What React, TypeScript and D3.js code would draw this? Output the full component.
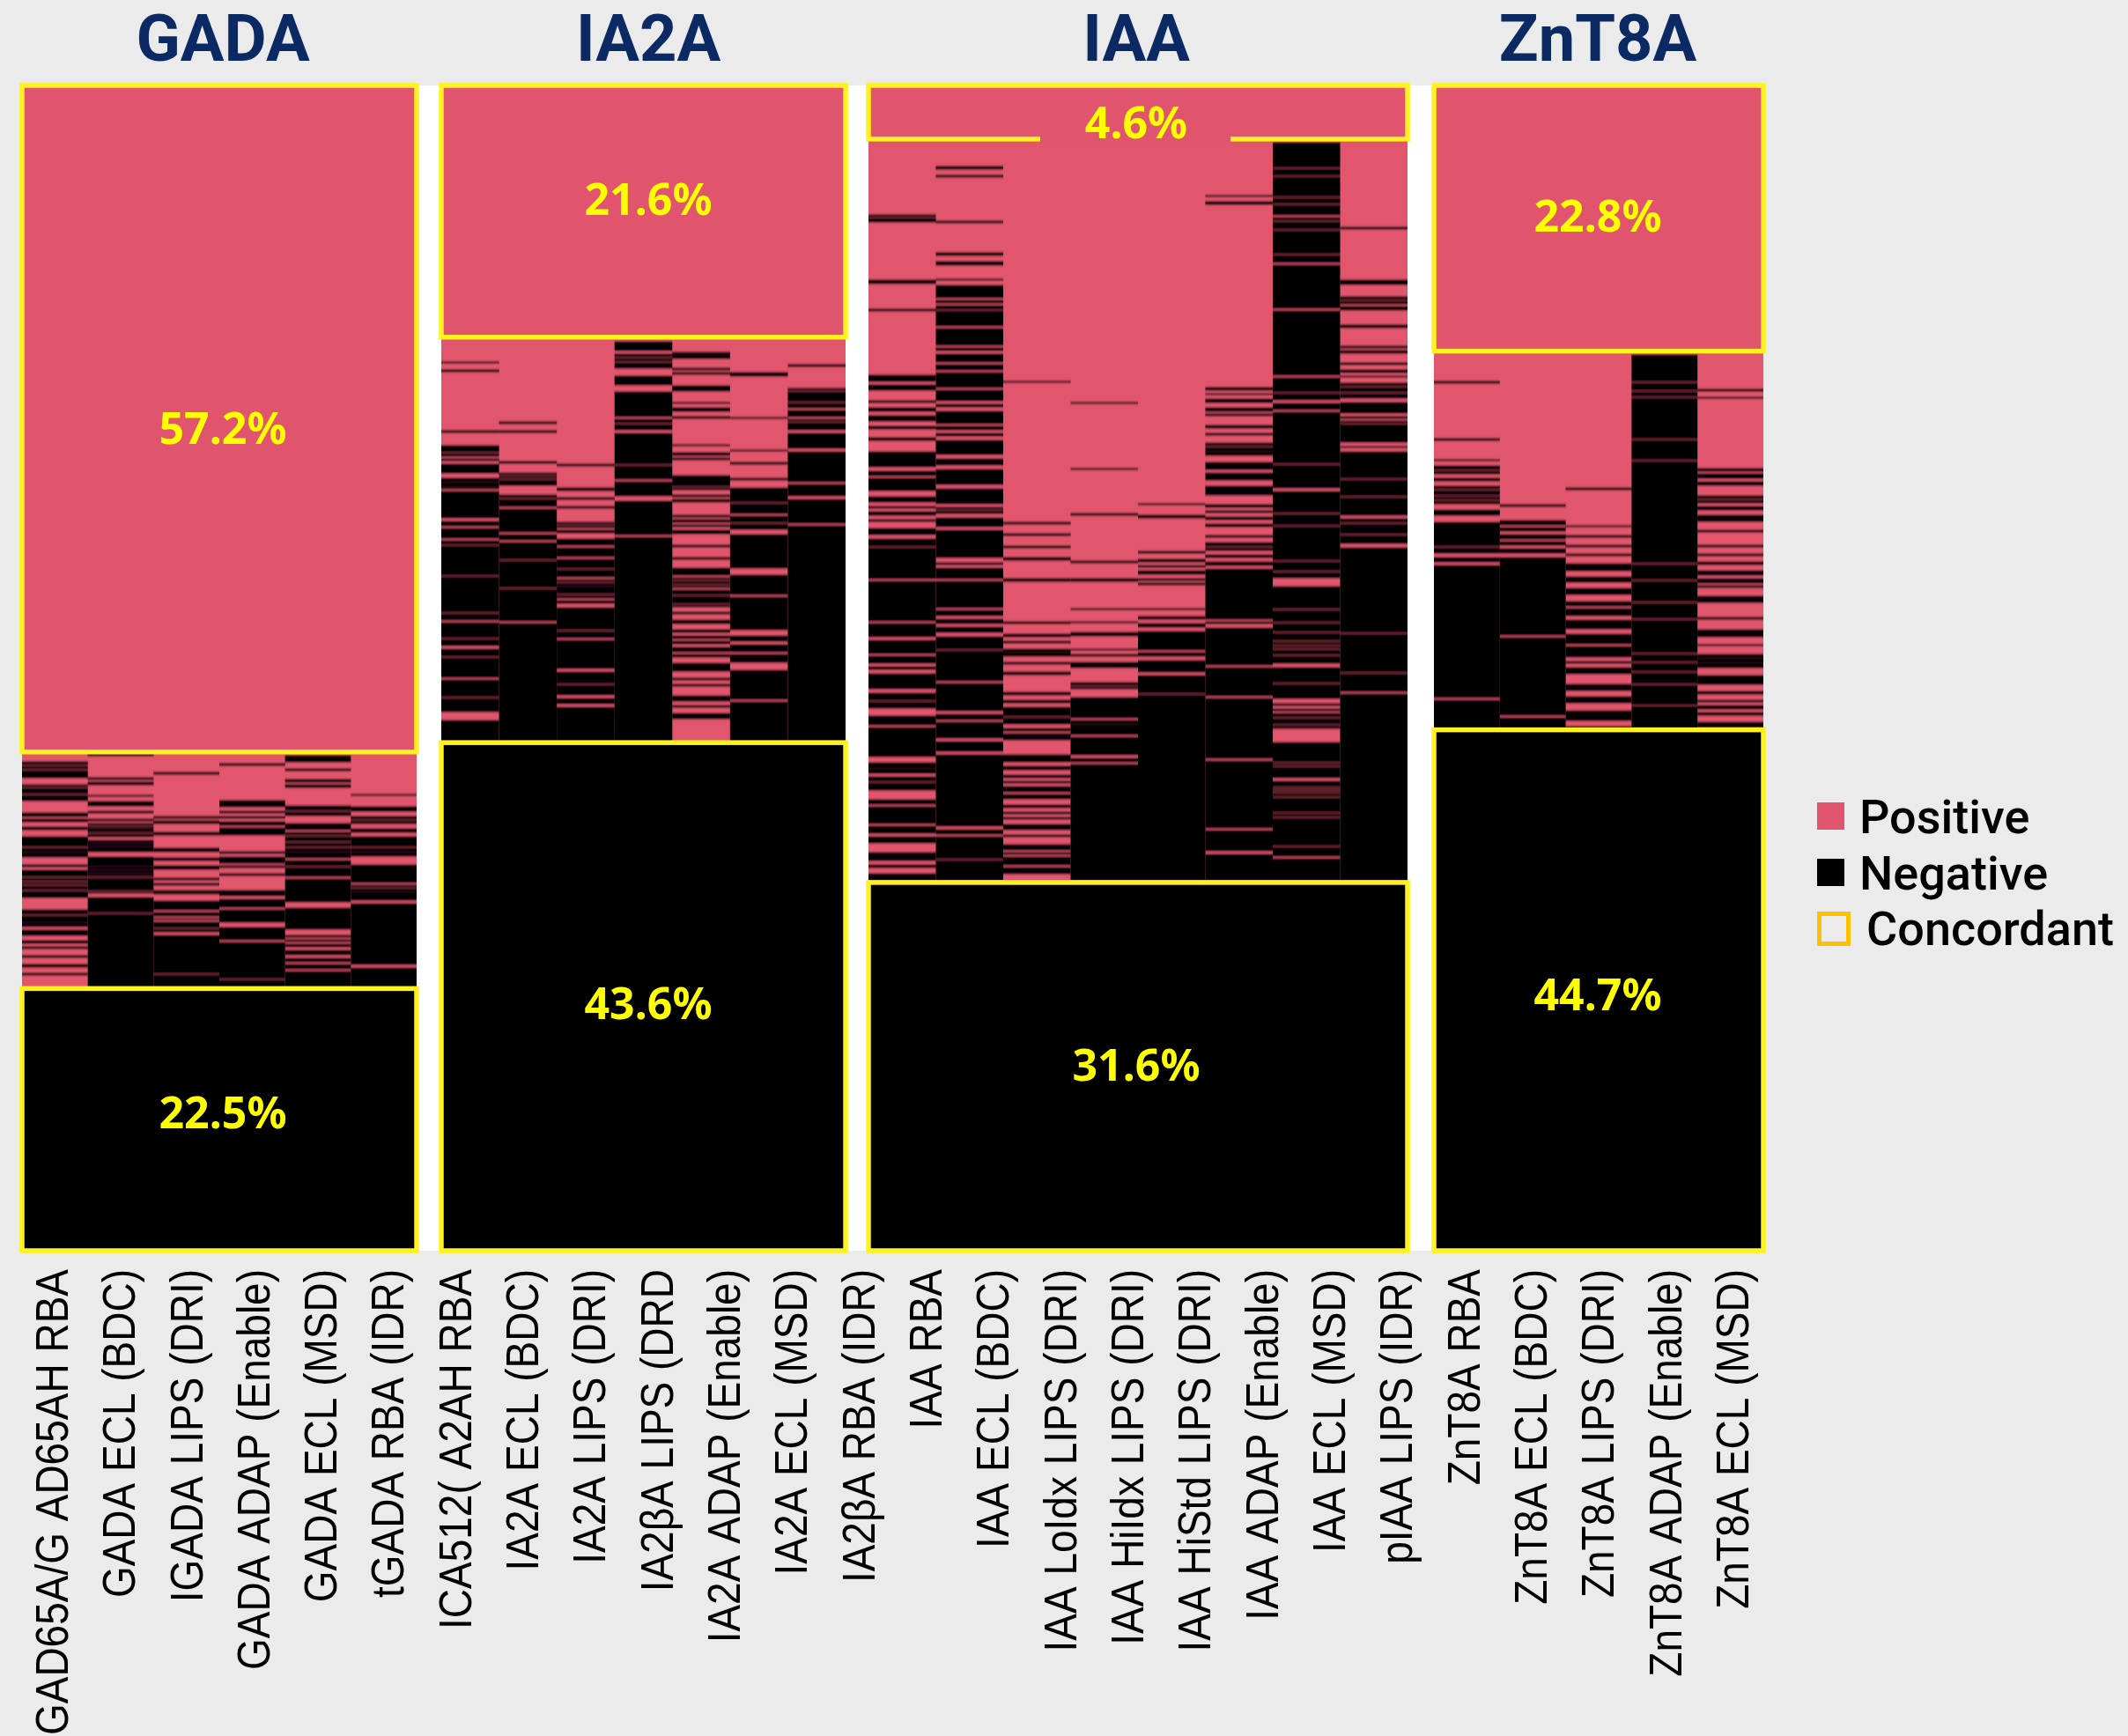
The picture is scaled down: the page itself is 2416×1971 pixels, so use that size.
import * as d3 from "d3";

// rows are samples sorted top to bottom, 1323 rows in every panel
// each column lists its negative runs as start, end, start, end ...
const N_ROWS = 1323;

const gadaLabels = ["GAD65A/G AD65AH RBA", "GADA ECL (BDC)", "IGADA LIPS (DRI)", "GADA ADAP (Enable)", "GADA ECL (MSD)", "tGADA RBA (IDR)"];
const gadaRuns = [
  [768,771,773,776,778,786,794,796,798,804,806,812,826,830,833,836,842,845,853,864,866,870,871,876,885,887,891,898,900,903,905,907,909,913,915,920,920,922,936,941,943,950,951,955,959,965,971,974,978,980,988,990,998,1001,1008,1010],
  [759,761,786,788,791,794,806,807,813,818,824,826,833,835,838,840,842,844,845,848,850,853,857,860,861,864,865,870,876,886,887,890,891,894,895,898,900,914,916,917,922,939,941,1025],
  [780,782,830,832,835,838,848,851,866,870,877,880,886,890,900,902,906,908,914,916,917,918,926,936,939,943,946,947,950,956,958,961,965,1008,1010,1025],
  [770,772,812,819,824,826,830,832,836,840,843,851,870,872,876,883,886,888,895,897,914,920,924,933,936,950,956,970,973,1014,1016,1025],
  [761,768,776,778,788,791,794,797,818,823,825,829,838,845,848,851,853,858,860,864,866,870,871,877,880,886,888,898,901,927,934,958,965,967,970,972,975,978,982,987,991,995,998,1003,1006,1025],
  [805,806,819,824,830,833,835,838,844,848,853,864,866,870,871,875,885,905,908,910,912,915,916,925,929,998,1002,1025],
];

const ia2aLabels = ["ICA512( A2AH RBA", "IA2A ECL (BDC)", "IA2A LIPS (DRI)", "IA2βA LIPS (DRD", "IA2A ADAP (Enable)", "IA2A ECL (MSD)", "IA2βA RBA (IDR)"];
const ia2aRuns = [
  [314,315,323,325,392,394,409,416,418,421,424,426,430,440,446,450,451,455,456,458,461,491,495,500,503,514,517,521,523,556,558,598,600,607,610,627,629,636,640,648,650,672,675,694,696,711,721,745],
  [382,384,392,394,427,429,440,442,444,446,448,454,465,468,470,478,481,507,510,516,519,538,540,570,572,608,611,745],
  [430,432,457,460,468,470,478,480,496,498,500,502,505,508,515,522,525,535,538,548,550,558,561,563,565,568,569,577,579,582,585,588,593,618,620,627,630,662,666,679,681,692,696,702,706,745],
  [291,301,305,308,310,313,315,321,330,340,348,376,379,383,385,391,395,430,432,447,450,466,472,510,513,745],
  [303,305,306,310,321,323,326,328,341,347,360,361,366,370,376,378,408,409,417,420,423,425,443,455,457,459,465,467,470,473,488,490,493,496,499,501,505,509,522,524,536,538,548,556,559,561,563,566,568,570,573,578,580,588,590,592,598,600,607,611,618,621,625,628,631,634,638,643,646,649,656,665,673,675,680,682,693,699,704,706,713,719],
  [326,330,377,378,414,415,428,430,446,448,457,473,475,486,489,496,498,504,510,548,556,578,581,618,625,631,635,643,646,655,664,697,700,745],
  [317,319,344,346,348,359,361,366,369,376,379,381,383,391,395,412,416,450,453,466,470,497,500,745],
];

const iaaLabels = ["IAA RBA", "IAA ECL (BDC)", "IAA LoIdx LIPS (DRI)", "IAA HiIdx LIPS (DRI)", "IAA HiStd LIPS (DRI)", "IAA ADAP (Enable)", "IAA ECL (MSD)", "pIAA LIPS (IDR)"];
const iaaRuns = [
  [147,149,151,155,221,225,254,256,329,336,340,346,358,360,366,370,375,381,387,390,400,403,416,433,438,443,446,460,467,473,478,480,484,488,493,495,503,510,515,523,525,560,563,608,611,626,630,645,648,656,660,663,668,685,690,698,700,707,716,726,729,762,769,775,776,781,785,790,792,800,811,816,819,838,841,849,853,860,871,880,885,888,895,903],
  [92,95,102,104,154,156,190,193,200,204,220,221,227,241,244,247,250,254,256,273,276,295,298,301,305,314,317,323,326,343,346,358,362,365,370,384,387,391,395,398,403,419,424,431,436,453,458,475,479,481,483,486,491,501,505,536,542,544,548,560,563,593,596,602,606,611,615,621,626,640,642,676,679,710,714,720,723,741,745,756,760,841,845,850,853,878,880,903],
  [336,337,496,498,509,511,523,525,536,539,560,563,609,611,623,626,631,633,640,643,644,648,655,657,666,669,689,692,698,701,706,716,718,725,730,733,736,743,760,768,773,777,783,786,790,792,796,802,805,810,817,820,825,827,831,833,839,845,851,853,862,868,871,873,876,885,888,895],
  [360,361,435,436,486,488,540,542,560,563,594,595,609,610,621,625,640,641,646,648,655,661,678,681,683,685,695,700,700,703,703,718,721,725,726,737,740,760,764,768,771,903],
  [475,476,488,491,529,531,538,541,545,547,551,555,560,562,565,567,594,595,603,606,611,615,620,641,644,648,653,666,670,690,692,903],
  [125,126,132,135,343,346,350,351,356,360,366,370,373,375,386,389,395,397,406,409,411,415,416,420,428,436,440,448,455,465,476,479,483,485,490,493,498,501,511,513,519,523,525,528,533,536,541,545,549,606,609,611,616,658,661,693,696,764,767,843,846,869,873,903],
  [65,93,95,102,104,126,128,134,136,147,150,153,155,163,165,191,193,201,204,253,256,329,332,348,350,357,361,368,371,429,431,457,461,485,487,499,501,539,541,551,553,559,569,594,596,609,611,620,622,630,632,635,637,639,641,646,648,656,661,678,680,696,702,704,708,710,713,717,719,725,727,730,746,768,770,772,774,786,790,796,798,799,801,802,804,807,809,825,827,830,832,863,865,875,878,903],
  [161,163,221,226,240,243,245,248,251,255,272,275,296,298,301,304,315,317,323,326,330,331,338,341,343,348,350,355,360,372,376,378,381,383,385,405,410,411,416,446,448,466,468,488,492,496,498,509,511,520,525,621,623,666,668,688,691,903],
];

const zntLabels = ["ZnT8A RBA", "ZnT8A ECL (BDC)", "ZnT8A LIPS (DRI)", "ZnT8A ADAP (Enable)", "ZnT8A ECL (MSD)"];
const zntRuns = [
  [336,338,401,403,425,426,432,436,438,441,446,449,455,458,460,465,467,470,472,475,482,488,496,523,525,531,536,541,545,695,698,731],
  [476,478,494,499,502,506,510,515,518,522,526,531,536,624,627,715,718,731],
  [457,459,500,501,511,513,522,524,532,534,543,551,558,564,571,578,586,591,594,602,607,617,623,634,637,649,654,656,661,668,680,687,694,701,710,721,728,731],
  [306,336,338,346,348,353,355,401,403,425,427,542,544,561,563,586,588,605,607,644,646,654,656,665,667,679,681,703,705,731],
  [345,347,354,355,435,438,441,446,450,454,466,469,471,474,478,482,488,495,505,507,522,524,532,534,541,544,551,556,560,565,568,570,580,587,604,606,618,626,635,636,646,650,651,655,656,661,670,680,688,691,698,700,704,708,712,715,723,729],
];

const panelNames = ["GADA", "IA2A", "IAA", "ZnT8A"];
const positivePct = [57.2, 21.6, 4.6, 22.8];
const negativePct = [22.5, 43.6, 31.6, 44.7];
const allLabels = [gadaLabels, ia2aLabels, iaaLabels, zntLabels];
const allRuns = [gadaRuns, ia2aRuns, iaaRuns, zntRuns];

const legendItems = ["Positive", "Negative", "Concordant"];

const PINK = "#E1546D";
const YELLOW = "#FFF21E";
const width = 2416;
const height = 1971;

// layout
const panelLeft = [25, 501, 986, 1628];
const panelRight = [473, 960, 1598, 2002];
const titleX = [253, 736, 1290, 1814];
const posLabelRow = [389, 129, 42, 148];
const negLabelRow = [1166, 1042, 1112, 1032];

const rowY = d3.scaleLinear().domain([0, N_ROWS]).range([97, 1420]);
const pctY = d3.scaleLinear().domain([0, 100]).range([0, N_ROWS]);

// the tick labels are evenly spaced over the whole width, not under their own columns
const labelX = d3.scalePoint<string>().domain(allLabels.flat()).range([58, 1966]);

const toRuns = (flat: number[]) => d3.range(0, flat.length, 2).map((i) => [flat[i], flat[i + 1]]);

const App = () => {
  const panels = panelNames.map((name, i) => {
    const x = d3.scaleBand<string>().domain(allLabels[i]).range([panelLeft[i], panelRight[i]]);
    const posEnd = rowY(pctY(positivePct[i]));
    const negStart = rowY(N_ROWS - pctY(negativePct[i]));
    return { name, i, x, posEnd, negStart };
  });
  const x0 = panelLeft[0];
  const x1 = panelRight[3];

  return (
    <svg
      width={width}
      height={height}
      style={{ position: "absolute", top: 0, left: 0, background: "#EBEBEB" }}
    >
      <defs>
        <filter id="soft" x="0" y="0" width="1" height="1">
          <feGaussianBlur stdDeviation="0 0.8" />
        </filter>
      </defs>

      <rect x={x0} y={rowY(0)} width={x1 - x0} height={rowY(N_ROWS) - rowY(0)} fill="#fff" />

      {panels.map(({ name, i, x, posEnd, negStart }) => {
        const left = panelLeft[i];
        const right = panelRight[i];
        const w = right - left;
        return (
          <g key={name}>
            <rect x={left} y={rowY(0)} width={w} height={negStart - rowY(0)} fill={PINK} />
            <rect x={left} y={negStart} width={w} height={rowY(N_ROWS) - negStart} fill="#000" />
            <g filter="url(#soft)">
              <rect x={left} y={posEnd} width={w} height={negStart - posEnd} fill={PINK} />
              {allRuns[i].map((col, c) =>
                toRuns(col).map(([a, b]) => (
                  <rect
                    key={`${c}-${a}`}
                    x={x(allLabels[i][c])}
                    y={rowY(a) - 0.5}
                    width={x.bandwidth()}
                    height={rowY(b) - rowY(a) + 1}
                    fill="#000"
                  />
                ))
              )}
            </g>
            <rect x={left} y={rowY(0)} width={w} height={posEnd - rowY(0)} fill="none" stroke={YELLOW} strokeWidth={5.5} />
            <rect x={left} y={negStart} width={w} height={rowY(N_ROWS) - negStart} fill="none" stroke={YELLOW} strokeWidth={5.5} />
            <text
              x={titleX[i]}
              y={69}
              textAnchor="middle"
              fontFamily="Roboto"
              fontWeight={700}
              fontSize={74}
              fill="#0B2A63"
            >
              {name}
            </text>
          </g>
        );
      })}

      {allLabels.flat().map((label) => (
        <text
          key={label}
          transform={`translate(${labelX(label) ?? 0},1441) rotate(-90) scale(1,1.14)`}
          textAnchor="end"
          fontFamily="Liberation Sans"
          fontSize={46}
          dy="0.36em"
          fill="#000"
          style={{ fontKerning: "none" }}
        >
          {label}
        </text>
      ))}

      {/* the 4.6% label sits in a break of its box */}
      <rect x={1181} y={150} width={216} height={12} fill={PINK} />

      {panels.map(({ name, i }) => (
        <g key={name} fontFamily="Noto Sans" fontWeight={700} fontSize={50} fill="#FFFF00" textAnchor="middle">
          <text x={titleX[i]} y={rowY(posLabelRow[i])} dy="0.36em">{positivePct[i].toFixed(1)}%</text>
          <text x={titleX[i]} y={rowY(negLabelRow[i])} dy="0.36em">{negativePct[i].toFixed(1)}%</text>
        </g>
      ))}

      <g fontFamily="Roboto" fontWeight={500} fontSize={54} fill="#000">
        <rect x={2063} y={911} width={31} height={31} fill={PINK} />
        <text x={2111} y={946}>{legendItems[0]}</text>
        <rect x={2063} y={975} width={31} height={31} fill="#000" />
        <text x={2111} y={1010}>{legendItems[1]}</text>
        <rect x={2065.5} y={1037.5} width={33} height={34} fill="none" stroke="#FFC000" strokeWidth={5} />
        <text x={2119} y={1073}>{legendItems[2]}</text>
      </g>
    </svg>
  );
};

export default App;
